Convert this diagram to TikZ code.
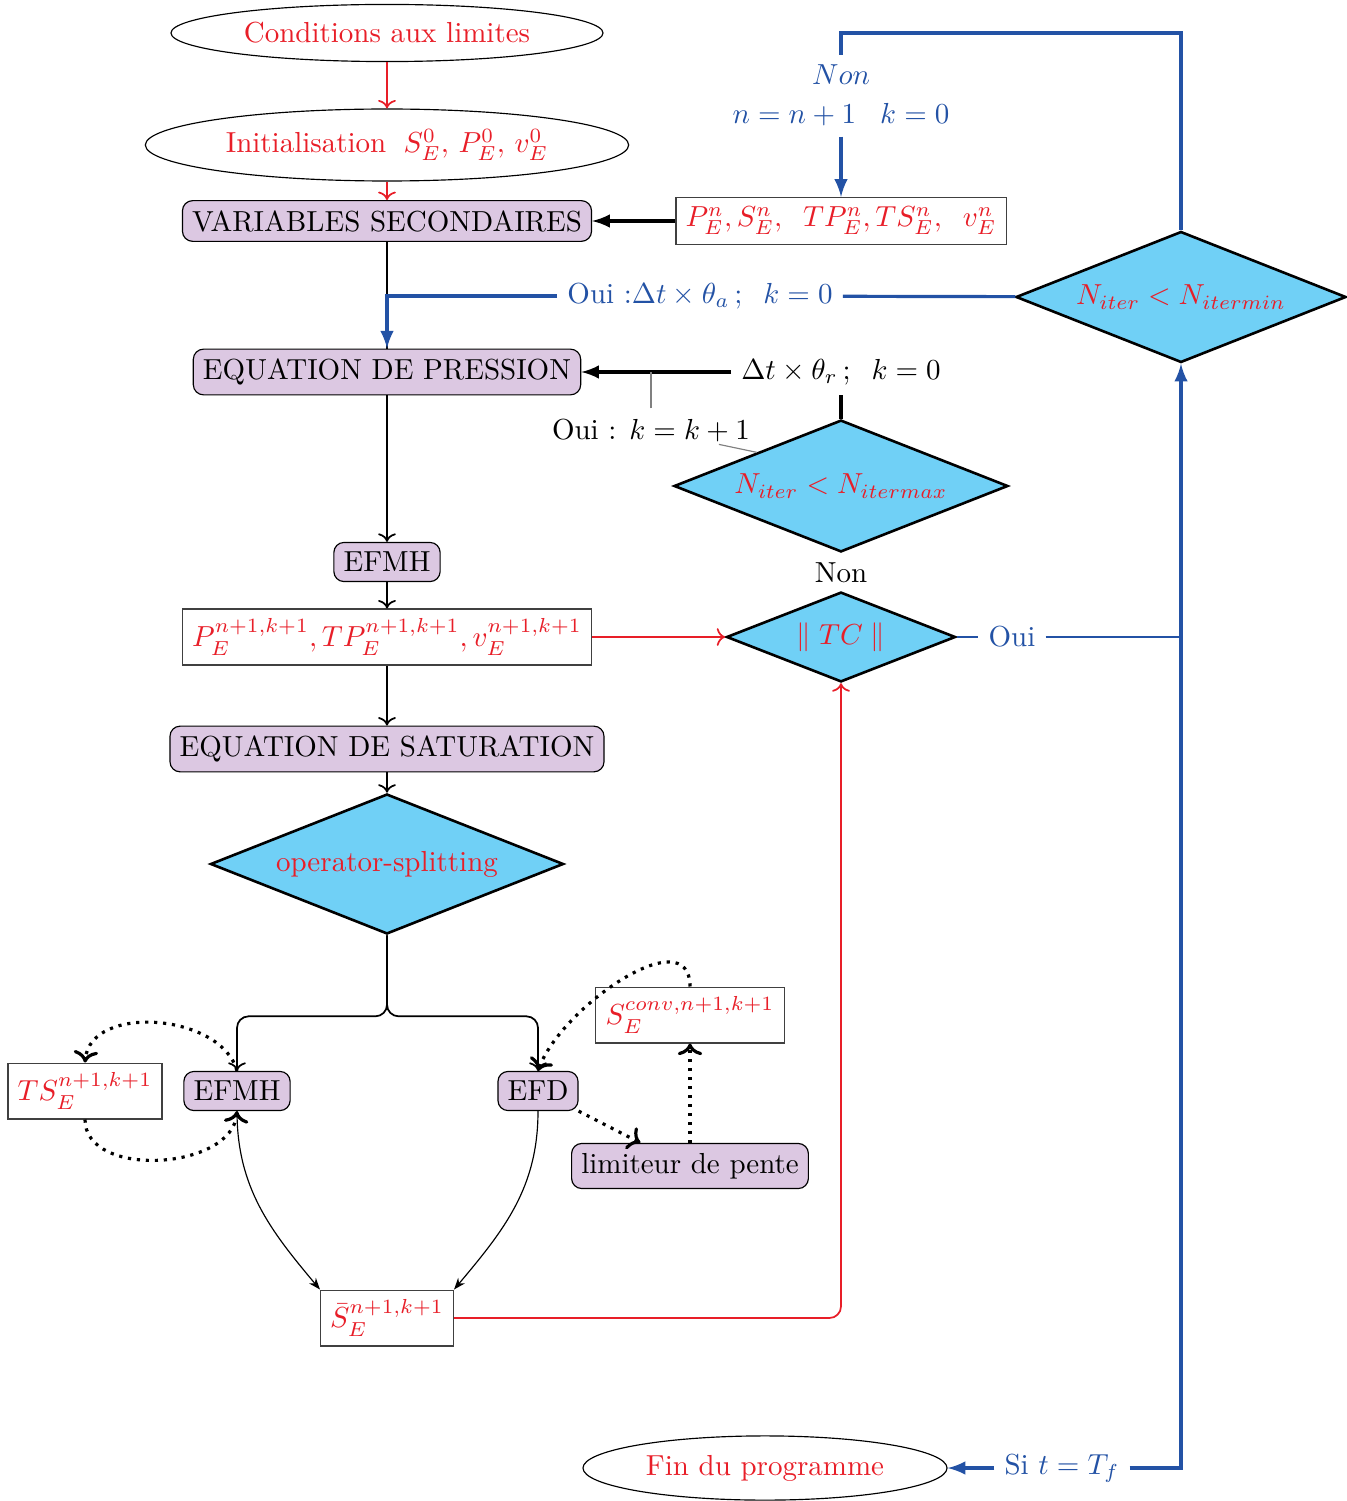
\documentclass[tikz,border=0pt]{standalone}
\usetikzlibrary{shapes.geometric,arrows.meta}
\definecolor{txtred}{RGB}{232,30,40}
\definecolor{loopblue}{RGB}{35,82,165}
\definecolor{boxlilac}{RGB}{220,200,226}
\definecolor{diacyan}{RGB}{112,208,246}
\tikzset{
  bulle/.style={ellipse,draw,thin,text=txtred},
  bloc/.style={rectangle,rounded corners=3.5pt,draw,thin,fill=boxlilac},
  donnee/.style={rectangle,draw=black!75,thin,fill=white,text=txtred},
  test/.style={diamond,aspect=2.52,draw,line width=0.9pt,fill=diacyan,text=txtred,inner sep=0pt},
  flux/.style={semithick,->},
  fluxrouge/.style={semithick,->,txtred},
  boucle/.style={line width=1.1pt,loopblue},
  retour/.style={line width=1.1pt,-latex},
  pointille/.style={dotted,line width=1.1pt,->},
  fin/.style={thin,-{Stealth[length=4pt]}},
}
\begin{document}
\begin{tikzpicture}[x=0.345pt,y=0.345pt]
   \useasboundingbox (0,0) rectangle (1346,-1501);

   \node[bulle] (cond) at (387,-33) {Conditions aux limites};
   \node[bulle] (init) at (387,-145) {Initialisation\hspace{0.6em}$S_E^0,\, P_E^0,\, v_E^0$};
   \node[bloc] (varsec) at (387,-221) {VARIABLES SECONDAIRES};
   \node[donnee] (pn) at (841,-221) {$P_E^n, S_E^n,\;\; TP_E^n, TS_E^n,\;\; v_E^n$};
   \node[bloc] (press) at (387,-372) {EQUATION DE PRESSION};
   \node[test,minimum width=113.9pt,minimum height=45.2pt] (nmin) at (1181,-297) {$N_{iter} < N_{itermin}$};
   \node[text=loopblue] (ouiA) at (700,-296) {Oui :$\Delta t\times\theta_a\,;\;\; k=0$};
   \node[text=loopblue] (nonA) at (841,-75) {$Non$};
   \node[text=loopblue] (incr) at (841,-115) {$n=n+1\;\;\;k=0$};
   \coordinate (loopTop) at (841,-33);

   \node (dtr) at (841,-372) {$\Delta t\times\theta_r\,;\;\; k=0$};
   \node[test,minimum width=115.2pt,minimum height=45.5pt] (nmax) at (841,-486) {$N_{iter} < N_{itermax}$};
   \node (ouiK) at (651,-430) {Oui : $k=k+1$};
   \node (nonB) at (841,-573) {Non};
   \node[test,minimum width=79pt,minimum height=31pt] (tc) at (841,-637) {$\parallel TC\parallel$};
   \node[text=loopblue] (ouiB) at (1012,-637) {Oui};

   \node[bloc] (efmhP) at (387,-562) {EFMH};
   \node[donnee] (pnk) at (387,-637) {$P_E^{n+1,k+1}, TP_E^{n+1,k+1}, v_E^{n+1,k+1}$};
   \node[bloc] (sat) at (387,-749) {EQUATION DE SATURATION};
   \node[test,minimum width=121.8pt,minimum height=48.3pt] (split) at (387,-864) {operator-splitting};

   \node[bloc] (efmhS) at (237,-1091) {EFMH};
   \node[bloc] (efd) at (538,-1091) {EFD};
   \node[donnee] (ts) at (85,-1091) {$TS_E^{n+1,k+1}$};
   \node[donnee] (sconv) at (690,-1015) {$S_E^{conv,n+1,k+1}$};
   \node[bloc] (lim) at (690,-1166) {limiteur de pente};
   \node[donnee] (sbar) at (387,-1318) {$\bar S_E^{n+1,k+1}$};

   \node[bulle] (fin) at (765,-1468) {Fin du programme};
   \node[text=loopblue] (siT) at (1062,-1468) {Si $t=T_f$};

   \draw[fluxrouge] (cond) -- (init);
   \draw[fluxrouge] (init) -- (varsec);
   \draw[retour] (pn) -- (varsec);
   \draw[semithick] (varsec) -- (press);
   \draw[boucle] (nmin) -- (ouiA);
   \draw[boucle,-latex] (ouiA) -| (press);
   \draw[boucle] (nmin) |- (loopTop) -- (nonA);
   \draw[boucle,-latex] (incr) -- (pn);

   \draw[retour] (dtr) -- (press);
   \draw[line width=1.1pt] (nmax) -- (dtr);
   \draw[gray] (ouiK.north) -- (ouiK.north |- press.east);
   \draw[gray] (nmax.north west) -- ++(-38,8);

   \draw[flux] (press) -- (efmhP);
   \draw[flux] (efmhP) -- (pnk);
   \draw[flux] (pnk) -- (sat);
   \draw[flux] (sat) -- (split);
   \draw[fluxrouge] (pnk) -- (tc);
   \draw[loopblue] (tc) -- (ouiB);
   \draw[loopblue] (ouiB) -- (ouiB -| nmin);
   \draw[boucle,-latex] (siT) -| (nmin);
   \draw[boucle,-latex] (siT) -- (fin);

   \draw[flux,rounded corners=4pt] (split.south) -- ++(0,-81) -| (efmhS.north);
   \draw[flux,rounded corners=4pt] (split.south) -- ++(0,-81) -| (efd.north);
   \draw[pointille] (efmhS.north) to[out=105,in=85] (ts.north);
   \draw[pointille] (ts.south) to[out=-90,in=-95] (efmhS.south);
   \draw[pointille] (sconv.north) to[out=90,in=70] (efd.north);
   \draw[pointille] (efd.south east) -- (lim.155);
   \draw[pointille] (lim) -- (sconv);
   \draw[fin] (efmhS.south) to[out=-90,in=130] (sbar.north west);
   \draw[fin] (efd.south) to[out=-90,in=50] (sbar.north east);
   \draw[fluxrouge,rounded corners=4pt] (sbar) -| (tc);
\end{tikzpicture}
\end{document}
